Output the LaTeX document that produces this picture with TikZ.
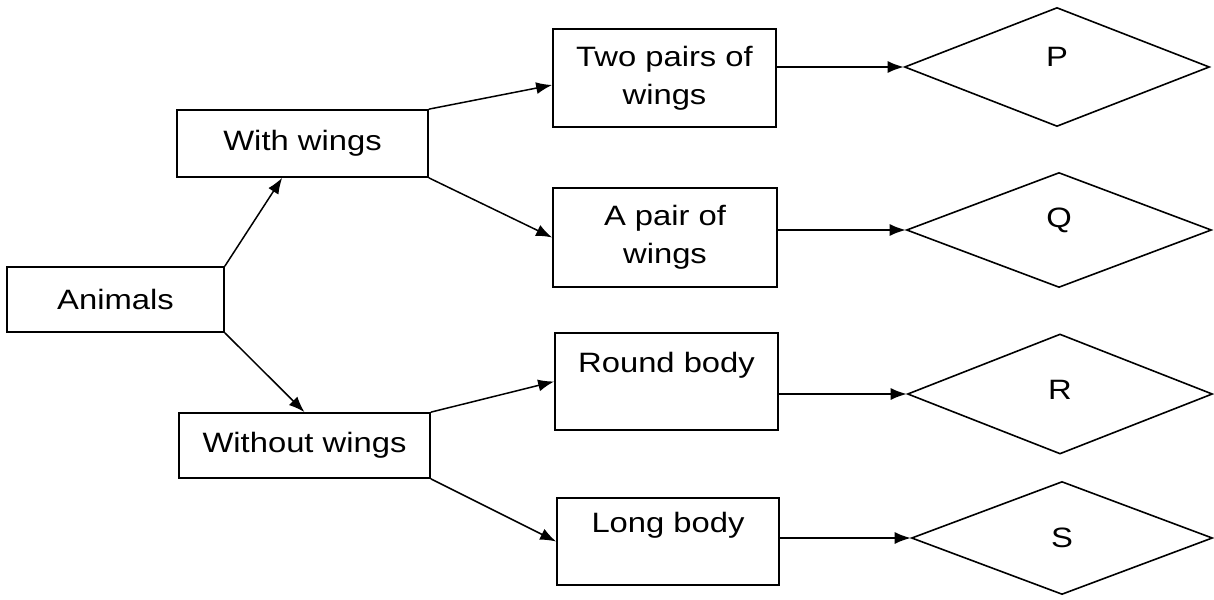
\documentclass[tikz,border=0pt]{standalone}
\usepackage{fontspec}
\setmainfont{Liberation Sans}[FakeStretch=1.17]
\usetikzlibrary{shapes.geometric,arrows.meta}
\begin{document}
\begin{tikzpicture}[x=1pt,y=-1pt,
  every node/.style={font=\fontsize{28}{38}\selectfont},
  box/.style={draw,line width=1.7pt,rectangle,inner sep=0pt,align=center},
  dia/.style={draw,line width=1.6pt,diamond,inner sep=0pt,aspect=2.6},
  conn/.style={line width=1.5pt,-{Latex[length=16pt,width=12pt]}}]
\useasboundingbox (0,0) rectangle (1214,599);
% boxes
\node[box,minimum width=217pt,minimum height=65pt] (an) at (115.5,299.5) {Animals};
\node[box,minimum width=251pt,minimum height=67pt] (ww) at (302.5,143.5) {With wings};
\node[box,minimum width=251pt,minimum height=65pt] (wo) at (304.5,445.5) {Without wings};
\node[box,minimum width=223pt,minimum height=98pt] (tp) at (664.5,78) {Two pairs of\\wings};
\node[box,minimum width=224pt,minimum height=99pt] (ap) at (665,237.5) {A pair of\\wings};
\node[box,minimum width=223pt,minimum height=97pt] (rb) at (666.5,381.5) {Round body\\\mbox{}};
\node[box,minimum width=222pt,minimum height=87pt] (lb) at (668,541.5) {Long body\\\mbox{}};
% diamonds
\node[dia,minimum width=305pt,minimum height=119pt,label={[yshift=10pt]center:P}] (P) at (1057,67) {};
\node[dia,minimum width=305pt,minimum height=115pt,label={[yshift=10pt]center:Q}] (Q) at (1059,230) {};
\node[dia,minimum width=305pt,minimum height=120pt,label={[yshift=4pt]center:R}] (R) at (1060,394) {};
\node[dia,minimum width=301pt,minimum height=113pt,label={center:S}] (S) at (1062,538) {};
% connectors
\draw[conn] (an.north east) -- ([xshift=106pt]ww.south west);
\draw[conn] (an.south east) -- (wo.north);
\draw[conn] (ww.north east) -- ([yshift=-7pt]tp.west);
\draw[conn] (ww.south east) -- (ap.west);
\draw[conn] (wo.north east) -- (rb.west);
\draw[conn] (wo.south east) -- (lb.west);
\draw[conn] (tp.east |- P.west) -- (P.west);
\draw[conn] (ap.east |- Q.west) -- (Q.west);
\draw[conn] (rb.east |- R.west) -- (R.west);
\draw[conn] (lb.east |- S.west) -- (S.west);
\end{tikzpicture}
\end{document}
